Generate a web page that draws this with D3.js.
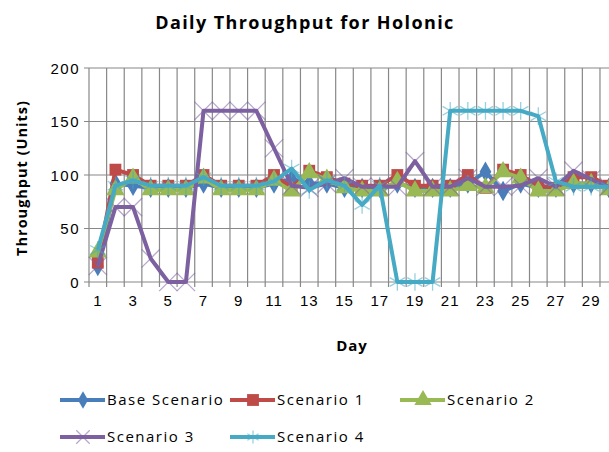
<!DOCTYPE html>
<html>
<head>
<meta charset="utf-8">
<script src="https://cdn.jsdelivr.net/npm/d3@7"></script>
<style>
  body { margin: 0; background: #fff; }
  svg { display: block; font-family: "Open Sans", "Noto Sans", sans-serif; }
  .grid line { stroke: #888; stroke-width: 1.2; }
  .tick text { fill: #000; }
</style>
</head>
<body>
<svg id="chart"></svg>
<script>
// chart data
var days = [1, 2, 3, 4, 5, 6, 7, 8, 9, 10, 11, 12, 13, 14, 15, 16, 17, 18, 19, 20, 21, 22, 23, 24, 25, 26, 27, 28, 29, 30];
var dayLabels = [1, 3, 5, 7, 9, 11, 13, 15, 17, 19, 21, 23, 25, 27, 29];
var yTicks = [0, 50, 100, 150, 200];
var seriesNames = ["Base Scenario", "Scenario 1", "Scenario 2", "Scenario 3", "Scenario 4"];

var baseScenario = [15, 92, 90, 88, 88, 88, 92, 88, 88, 88, 92, 96, 92, 92, 88, 88, 88, 92, 88, 88, 88, 92, 103, 85, 92, 88, 88, 92, 92, 88];
var scenario1 = [18, 105, 100, 90, 90, 90, 100, 90, 90, 90, 100, 88, 104, 98, 92, 90, 90, 100, 90, 90, 90, 100, 88, 105, 100, 90, 88, 98, 98, 90];
var scenario2 = [28, 86, 97, 86, 86, 86, 97, 86, 86, 86, 95, 85, 102, 96, 88, 85, 85, 94, 85, 85, 85, 90, 88, 103, 97, 85, 85, 92, 92, 86];
var scenario3 = [15, 70, 70, 22, 0, 0, 160, 160, 160, 160, 125, 90, 88, 92, 97, 89, 89, 89, 113, 89, 89, 97, 89, 89, 90, 97, 89, 104, 96, 89];
var scenario4 = [30, 90, 95, 90, 90, 90, 98, 90, 90, 90, 94, 106, 86, 95, 90, 72, 90, 0, 0, 0, 160, 160, 160, 160, 160, 155, 94, 89, 89, 89];

var colors = ["#4a7ebb", "#be4b48", "#98b954", "#7d60a0", "#46aac5"];
var symbols = [d3.symbolDiamond, d3.symbolSquare, d3.symbolTriangle, d3.symbolTimes, d3.symbolAsterisk];
var symSizes = [120, 140, 150, 220, 220];
var legendSizes = [90, 140, 130, 120, 120];

var W = 609, H = 452;
var margin = {top: 68, left: 89};
var bandW = 17.62;

var svg = d3.select("#chart").attr("width", W).attr("height", H);

var x = d3.scaleBand().domain(days).range([margin.left, margin.left + bandW * days.length]).padding(0);
var y = d3.scaleLinear().domain([0, 200]).range([282, margin.top]);

var cx = function(d) { return x(d) + x.bandwidth() / 2; };

// title
svg.append("text").attr("x", 305).attr("y", 29).attr("text-anchor", "middle")
  .style("font-size", "18px").style("font-weight", "bold").style("letter-spacing", "1.4px")
  .text("Daily Throughput for Holonic");

// grid
var grid = svg.append("g").attr("class", "grid");
grid.selectAll("line.h").data(yTicks).join("line").attr("class", "h")
  .attr("x1", margin.left - 5).attr("x2", x.range()[1])
  .attr("y1", d => y(d)).attr("y2", d => y(d));
var bounds = days.map(d => x(d)).concat([x.range()[1]]);
grid.selectAll("line.v").data(bounds).join("line").attr("class", "v")
  .attr("x1", d => d).attr("x2", d => d)
  .attr("y1", y(200)).attr("y2", y(0) + 5);

// axes labels
var yAxis = svg.append("g").attr("transform", "translate(" + (margin.left - 9) + ",0)")
  .call(d3.axisLeft(y).tickValues(yTicks).tickSize(0).tickPadding(0));
yAxis.select(".domain").remove();
yAxis.selectAll("text").style("font-size", "15px").style("letter-spacing", "1.5px").attr("dy", "0.35em");

var xAxis = svg.append("g").attr("transform", "translate(0," + (y(0) + 19) + ")")
  .call(d3.axisBottom(x).tickValues(dayLabels).tickSize(0).tickPadding(0));
xAxis.select(".domain").remove();
xAxis.selectAll("text").style("font-size", "15px").style("letter-spacing", "1px").attr("dy", "0.35em");

svg.append("text").attr("x", 352).attr("y", 351).attr("text-anchor", "middle")
  .style("font-size", "15px").style("font-weight", "bold").style("letter-spacing", "1px").text("Day");
svg.append("text").attr("transform", "translate(27,178) rotate(-90)").attr("text-anchor", "middle")
  .style("font-size", "14.5px").style("font-weight", "bold").style("letter-spacing", "1px")
  .text("Throughput  (Units)");

// series
var allSeries = [baseScenario, scenario1, scenario2, scenario3, scenario4];
var line = d3.line().x((v, i) => cx(days[i])).y(v => y(v));

function marker(sel, k, size) {
  var isStroke = k >= 3;
  sel.attr("d", d3.symbol().type(symbols[k]).size(size))
    .attr("fill", isStroke ? "none" : colors[k])
    .attr("stroke", isStroke ? colors[k] : "none")
    .attr("stroke-opacity", isStroke ? 0.55 : 1)
    .attr("stroke-width", 1.3);
}

allSeries.forEach(function(vals, k) {
  var g = svg.append("g");
  g.append("path").datum(vals).attr("d", line).attr("fill", "none")
    .attr("stroke", colors[k]).attr("stroke-width", 4).attr("stroke-linejoin", "round");
  g.selectAll("path.m").data(vals).join("path").attr("class", "m")
    .attr("transform", (v, i) => "translate(" + cx(days[i]) + "," + y(v) + ")")
    .call(marker, k, symSizes[k]);
});

// legend
var legendPos = [[60, 400], [230, 400], [400, 400], [60, 437], [230, 437]];
var legend = svg.append("g");
seriesNames.forEach(function(name, k) {
  var p = legendPos[k];
  legend.append("line").attr("x1", p[0]).attr("x2", p[0] + 45).attr("y1", p[1]).attr("y2", p[1])
    .attr("stroke", colors[k]).attr("stroke-width", 4);
  legend.append("path").attr("transform", "translate(" + (p[0] + 23) + "," + p[1] + ")")
    .call(marker, k, legendSizes[k]);
  legend.append("text").attr("x", p[0] + 47).attr("y", p[1]).attr("dy", "0.35em")
    .style("font-size", "15px").style("letter-spacing", "1.5px").text(name);
});
</script>
</body>
</html>
